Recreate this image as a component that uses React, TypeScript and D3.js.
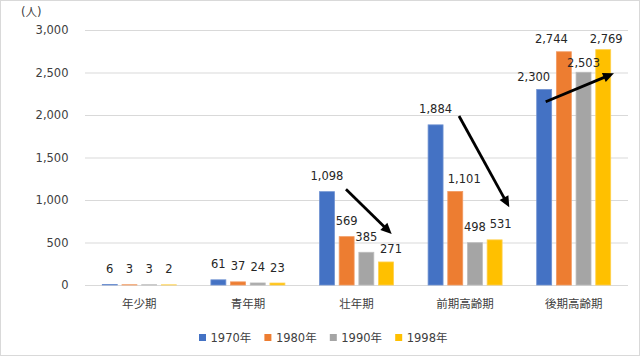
import React from "react";
import * as d3 from "d3";

const categories = ["年少期", "青年期", "壮年期", "前期高齢期", "後期高齢期"];
const seriesNames = ["1970年", "1980年", "1990年", "1998年"];
const values1970 = [6, 61, 1098, 1884, 2300];
const values1980 = [3, 37, 569, 1101, 2744];
const values1990 = [3, 24, 385, 498, 2503];
const values1998 = [2, 23, 271, 531, 2769];
const seriesValues = [values1970, values1980, values1990, values1998];
const yTicks = [0, 500, 1000, 1500, 2000, 2500, 3000];
const unitLabel = "(人)";

// annotation arrows in data space: [category position, value]
const arrows: [number, number, number, number][] = [
  [1.903, 1126, 2.324, 600],
  [2.944, 1988, 3.407, 914],
  [3.742, 2156, 4.371, 2491],
];

const colors = ["#4472C4", "#ED7D31", "#A5A5A5", "#FFC000"];
const strokeColors = ["#6f92d2", "#f29b63", "#bcbcbc", "#ffd04d"];

// manual label nudges (px), keyed by "cat-series"
const labelNudge: Record<string, [number, number]> = {
  "3-1": [9, 3.5],
  "2-3": [5, 3],
  "3-3": [6, 0],
  "4-0": [-10.5, 3],
  "4-1": [-12.5, 2.5],
  "4-2": [0, 6],
  "4-3": [3, 4.6],
};

const W = 640;
const H = 356;
const left = 85;
const right = 628;
const top = 30;
const bottom = 285;
const numFont = "'DejaVu Sans', 'Noto Sans CJK JP', sans-serif";
const fs = 11.5;

export default function App() {
  const x = d3.scaleBand<string>().domain(categories).range([left, right]).padding(0);
  const inner = d3.scaleBand<string>().domain(seriesNames).range([-37, 37]).paddingInner(0.24);
  const y = d3.scaleLinear().domain([0, 3000]).range([bottom, top]);
  const bw = x.bandwidth();
  const catPos = (t: number) => (x(categories[0]) as number) + bw * (t + 0.5);

  const arrowEls = arrows.map(([t0, v0, t1, v1], i) => {
    const x0 = catPos(t0), y0 = y(v0), x1 = catPos(t1), y1 = y(v1);
    const dx = x1 - x0, dy = y1 - y0;
    const len = Math.hypot(dx, dy);
    const ux = dx / len, uy = dy / len;
    const hl = 11, hw = 5;
    const bx = x1 - ux * hl, by = y1 - uy * hl;
    const pts = [
      [x1, y1],
      [bx - uy * hw, by + ux * hw],
      [bx + uy * hw, by - ux * hw],
    ];
    return (
      <g key={"a" + i}>
        <line x1={x0} y1={y0} x2={bx + ux * 1} y2={by + uy * 1} stroke="#000" strokeWidth={2.8} />
        <polygon points={pts.map((p) => p.join(",")).join(" ")} fill="#000" />
      </g>
    );
  });

  return (
    <svg
      width={W}
      height={H}
      style={{ position: "absolute", left: 0, top: 0, background: "#fff" }}
      fontFamily={numFont}
    >
      <rect x={0.5} y={0.5} width={W - 1} height={H - 1} fill="#fff" stroke="#d9d9d9" />
      <text x={21} y={16} fontSize={fs} fill="#404040">{unitLabel}</text>
      {yTicks.map((t) => (
        <g key={t}>
          <line x1={left} x2={right} y1={y(t) + 0.5} y2={y(t) + 0.5} stroke="#d9d9d9" strokeWidth={1} />
          <text x={68.5} y={y(t) + 4.3} fontSize={fs} textAnchor="end" fill="#404040">
            {d3.format(",")(t)}
          </text>
        </g>
      ))}
      {categories.map((c, ci) => (
        <g key={c}>
          {seriesNames.map((s, si) => {
            const v = seriesValues[si][ci];
            const bx = (x(c) as number) + bw / 2 + (inner(s) as number);
            return (
              <rect
                key={s}
                x={bx}
                y={y(v)}
                width={inner.bandwidth()}
                height={bottom - y(v)}
                fill={colors[si]}
                stroke={strokeColors[si]}
                strokeWidth={0.8}
              />
            );
          })}
          <text
            x={(x(c) as number) + bw / 2}
            y={308}
            fontSize={fs}
            textAnchor="middle"
            fill="#404040"
            fontFamily="'Noto Sans CJK JP', sans-serif"
          >
            {c}
          </text>
        </g>
      ))}
      {categories.map((c, ci) =>
        seriesNames.map((s, si) => {
          const v = seriesValues[si][ci];
          const cx = (x(c) as number) + bw / 2 + (inner(s) as number) + inner.bandwidth() / 2;
          const n = labelNudge[`${ci}-${si}`] || [0, 0];
          return (
            <text
              key={c + s}
              x={cx + n[0]}
              y={y(v) - 11.5 + n[1]}
              fontSize={fs}
              textAnchor="middle"
              fill="#262626"
            >
              {d3.format(",")(v)}
            </text>
          );
        })
      )}
      {arrowEls}
      {seriesNames.map((s, si) => {
        const lx = 199 + si * 65.4;
        return (
          <g key={"l" + s}>
            <rect x={lx} y={334} width={7} height={7} fill={colors[si]} />
            <text x={lx + 11.5} y={341.5} fontSize={fs} fill="#404040">
              {s}
            </text>
          </g>
        );
      })}
    </svg>
  );
}
